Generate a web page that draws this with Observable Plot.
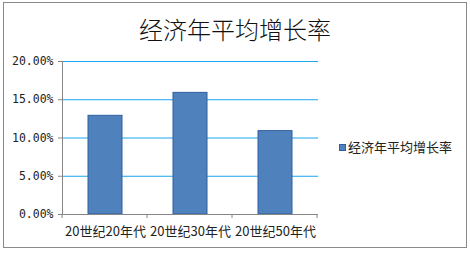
<!DOCTYPE html>
<html><head><meta charset="utf-8">
<script src="https://cdn.jsdelivr.net/npm/d3@7"></script>
<script src="https://cdn.jsdelivr.net/npm/@observablehq/plot@0.6"></script>
<style>
body{margin:0;background:#fff;}
#wrap{position:relative;width:470px;height:253px;overflow:hidden;font-family:"Noto Sans CJK SC",sans-serif;}
#border{position:absolute;left:3px;top:2px;width:462px;height:244px;border:1px solid #8a8a8a;box-sizing:content-box;}
#title{position:absolute;left:0;width:470px;top:12px;text-align:center;font-size:24px;line-height:34px;color:#111;font-weight:300;}
#legend{position:absolute;left:339px;top:138px;font-size:13px;line-height:18px;display:flex;align-items:center;color:#222;}
#legend .sw{width:5px;height:5px;background:#4f81bd;border:1px solid #2f5f9f;margin-right:2px;}
#wrap svg{position:absolute;left:0;top:0;}
</style></head>
<body>
<div id="wrap">
  <div id="border"></div>
  <div id="title"></div>
  <div id="legend"><div class="sw"></div><span id="legtext"></span></div>
</div>
<script>
const title = "经济年平均增长率";
const seriesName = "经济年平均增长率";
const categories = ["20世纪20年代", "20世纪30年代", "20世纪50年代"];
const values = [12.9, 15.9, 10.9];
const yTicks = [0, 5, 10, 15, 20];

const data = categories.map((c, i) => ({cat: c, val: values[i]}));

document.getElementById("title").textContent = title;
document.getElementById("legtext").textContent = seriesName;

const boundaryTicks = (index, scales, values, dimensions) => {
  const x = scales.x;
  const step = x(categories[1]) - x(categories[0]);
  const y0 = dimensions.height - dimensions.marginBottom;
  const g = d3.create("svg:g");
  for (let i = 0; i <= categories.length; i++) {
    const bx = dimensions.marginLeft + i * step;
    g.append("line").attr("x1", bx).attr("x2", bx).attr("y1", y0).attr("y2", y0 + 4)
      .attr("stroke", "#868686");
  }
  return g.node();
};

const chart = Plot.plot({
  width: 470,
  height: 253,
  marginLeft: 62,
  marginRight: 152,
  marginTop: 61,
  marginBottom: 39,
  style: {background: "transparent", fontFamily: "Noto Sans CJK SC, sans-serif"},
  x: {domain: categories, paddingInner: 0.6, paddingOuter: 0.3, label: null},
  y: {domain: [0, 20], label: null},
  marks: [
    Plot.ruleY(yTicks.filter(d => d > 0), {stroke: "#1aa6ee", strokeWidth: 1}),
    Plot.barY(data, {x: "cat", y: "val", fill: "#4f81bd", stroke: "#2f5f9f", strokeWidth: 1}),
    Plot.ruleY([0], {stroke: "#868686"}),
    Plot.frame({anchor: "left", stroke: "#868686"}),
    Plot.axisY({ticks: yTicks, tickSize: 4, tickPadding: 5, stroke: "#868686", fill: "#222",
      tickFormat: d => d.toFixed(2) + "%", fontSize: 11.5, fontFamily: "DejaVu Sans Mono", label: null}),
    Plot.axisX({tickSize: 0, tickPadding: 12, fontSize: 13, fill: "#222", label: null}),
    boundaryTicks
  ]
});
document.getElementById("wrap").appendChild(chart);
</script>
</body></html>
